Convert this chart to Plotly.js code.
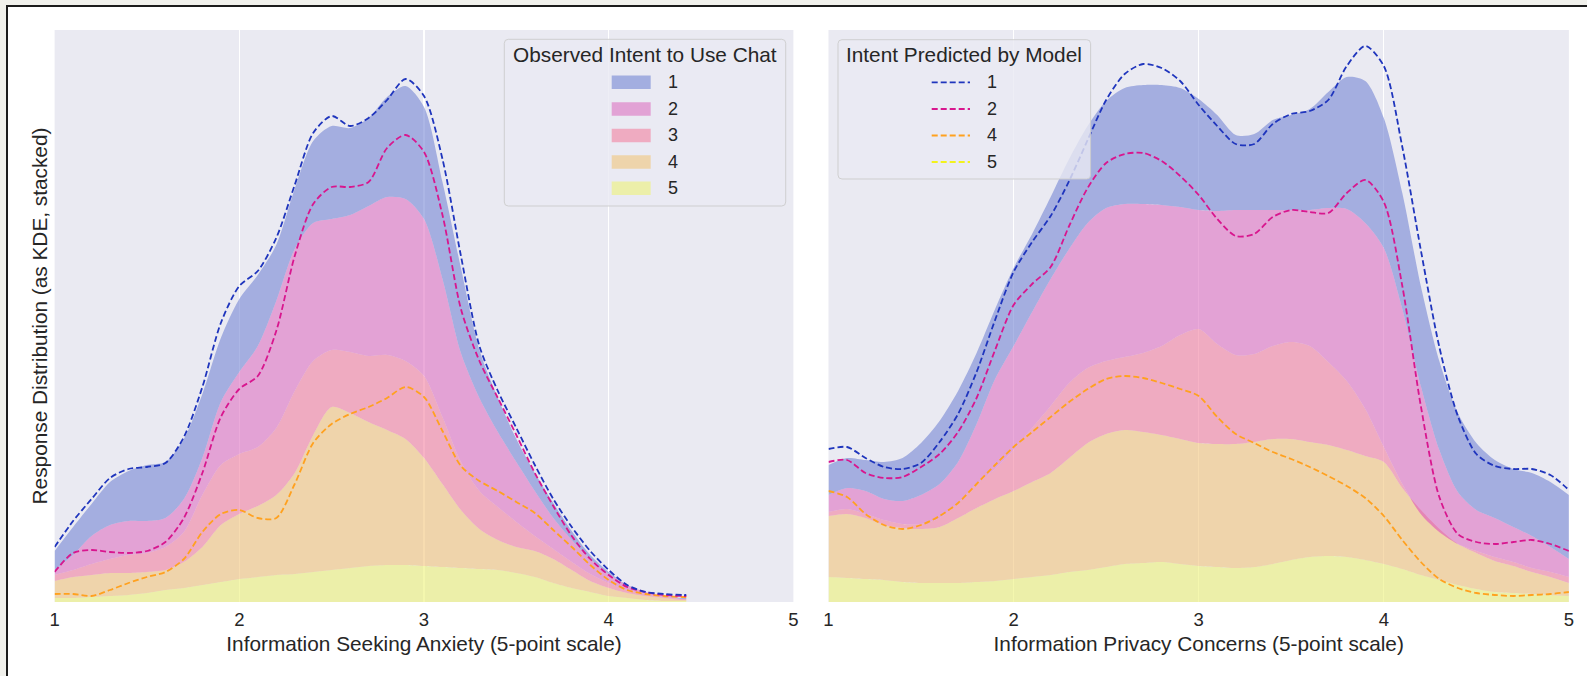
<!DOCTYPE html>
<html>
<head>
<meta charset="utf-8">
<script src="https://cdn.plot.ly/plotly-3.0.1.min.js"></script>
<style>
html,body{margin:0;padding:0;background:#f1f1ec;width:1587px;height:676px;overflow:hidden;}
#frame{position:absolute;left:6px;top:5px;width:1581px;height:671px;border-left:2px solid #1c1c1c;border-top:2px solid #1c1c1c;background:#fff;box-sizing:border-box;}
#chart{position:absolute;left:0;top:0;width:1579px;height:669px;}
</style>
</head>
<body>
<div id="frame"><div id="chart"></div></div>
<script>
// ---------- DATA ----------
const classLabels = ['1','2','3','4','5'];
const predLabels = ['1','2','4','5'];
const xTicks = [1,2,3,4,5];

// Left panel: Information Seeking Anxiety
const xAnx = [1.0,1.1,1.2,1.3,1.4,1.5,1.6,1.7,1.8,1.9,2.0,2.1,2.2,2.3,2.4,2.5,2.6,2.7,2.8,2.9,
              3.0,3.1,3.2,3.3,3.4,3.5,3.6,3.7,3.8,3.9,4.0,4.1,4.2,4.3,4.4,4.42];
// observed intent, stacked KDE (cumulative tops, classes 1..5)
const obsAnx1 = [51,75,98,120,131,137,140,163,208,264,303,327,357,413,461,476,474,484,505,516,
                 495,420,334,252,204,163,129,99,71,47,30,17,10,6,4,4];
const obsAnx2 = [32,47,66,77,81,81,84,103,144,200,230,256,301,353,379,383,387,396,405,403,
                 383,323,249,204,170,140,111,84,62,43,28,17,10,6,3,3];
const obsAnx3 = [27,32,38,43,47,49,55,70,107,137,148,155,174,211,241,252,250,246,247,241,
                 226,185,140,111,95,80,66,53,40,28,19,12,8,5,3,3];
const obsAnx4 = [21,25,27,29,29,30,32,40,55,77,88,96,107,129,167,195,189,180,172,163,
                 144,118,92,73,62,55,51,43,32,21,14,9,6,4,2,2];
const obsAnx5 = [4,4,5,6,7,9,12,14,17,20,23,25,27,28,30,32,34,36,37,37,
                 36,35,34,33,32,29,25,19,14,10,6,4,2,1,1,1];
// predicted intent, stacked (cumulative) KDE lines
const predAnx1 = [55,81,103,124,133,135,139,165,215,279,316,331,364,417,469,486,476,484,502,523,
                  506,443,346,256,211,174,137,103,75,51,32,17,10,8,7,7];
const predAnx2 = [30,49,52,50,49,51,60,84,129,185,213,226,271,346,398,415,415,420,454,467,
                  450,387,293,241,204,167,129,96,66,43,27,15,10,7,6,6];
const predAnx4 = [8,8,6,12,19,25,30,43,70,88,92,84,84,118,159,178,188,195,204,215,
                  205,171,136,121,111,100,89,72,55,37,22,12,8,6,5,5];

// Right panel: Information Privacy Concerns
const xPriv = [1.0,1.1,1.2,1.3,1.4,1.5,1.6,1.7,1.8,1.9,2.0,2.1,2.2,2.3,2.4,2.5,2.6,2.7,2.8,2.9,
               3.0,3.1,3.2,3.3,3.4,3.5,3.6,3.7,3.8,3.9,4.0,4.1,4.2,4.3,4.4,4.5,4.6,4.7,4.8,4.9,5.0];
const obsPriv1 = [137,144,142,140,144,159,181,211,249,293, 334,368,405,443,476,501,514,517,517,514,
                  503,487,467,468,482,487,493,510,525,521, 484,409,316,241,189,159,142,133,129,120, 107];
const obsPriv2 = [107,114,111,103,101,107,118,140,178,223, 256,290,323,353,379,394,398,398,397,395,
                  392,391,392,392,392,392,392,394,393,379, 354,293,216,152,110,92,84,75,66,55, 43];
const obsPriv3 = [90,93,88,82,78,78,84,99,118,133, 152,174,196,219,234,241,245,249,256,267,
                  273,258,247,248,256,260,256,240,221,193, 155,118,88,70,58,51,45,40,34,30, 25];
const obsPriv4 = [86,88,84,77,74,73,75,84,94,103, 111,120,129,144,159,168,172,170,167,163,
                  159,158,158,160,163,163,160,157,152,146, 140,114,92,73,58,49,41,36,30,25, 19];
const obsPriv5 = [25,24,23,22,20,19,19,19,20,21, 23,25,27,30,32,35,38,39,40,38,
                  36,35,34,35,38,42,45,46,45,42, 38,33,27,22,17,13,10,9,8,7, 6];
const predPriv1 = [153,155,144,135,133,139,160,188,230,282, 330,360,386,421,462,502,528,538,534,521,
                   497,476,458,458,478,488,491,502,536,556, 536,455,352,255,186,148,136,133,133,127, 112];
const predPriv2 = [140,142,129,124,125,135,148,170,204,252, 297,318,335,376,414,439,448,449,441,426,
                   407,383,366,368,385,392,390,389,409,422, 400,316,196,105,68,60,58,60,62,58, 51];
const predPriv4 = [111,105,88,77,73,77,86,99,118,137, 155,170,185,200,213,223,226,224,219,213,
                   206,185,168,159,150,143,135,126,116,104, 86,62,40,23,14,9,7,6,7,8, 10];

// ---------- STYLE ----------
// semi-transparent fills (gridlines show faintly through, as in the original)
const fillColors = {'1':'rgba(116,134,212,0.6)','2':'rgba(221,114,194,0.6)','3':'rgba(242,129,160,0.6)',
                    '4':'rgba(241,197,124,0.6)','5':'rgba(237,242,120,0.6)'};
const swatchColors = {'1':'#a3aee0','2':'#e2a2d5','3':'#efabc1','4':'#eed4ab','5':'#ecefa9'};
const lineColors = {'1':'#1f35bd','2':'#d8168e','4':'#ffa11f','5':'#f2f21c'};
const DASH = '6px,3px';
const FONT = 'Liberation Sans, Arial, Helvetica, sans-serif';
const TXT = '#262626';

const W = 1579, H = 669, OX = 8, OY = 7;
const px = X => (X - OX) / W;
const py = Y => 1 - (Y - OY) / H;

// ---------- TRACES ----------
const traces = [];
function addStack(x, stacks, xa, ya) {
  // stacks ordered bottom (class 5) to top (class 1)
  stacks.forEach((s, i) => {
    traces.push({
      type: 'scatter', mode: 'lines', x: x, y: s.y, xaxis: xa, yaxis: ya,
      line: {width: 0, shape: 'spline', smoothing: 0.8, color: s.c},
      fill: i === 0 ? 'tozeroy' : 'tonexty', fillcolor: s.c,
      name: s.name, showlegend: false, hoverinfo: 'skip'
    });
  });
}
addStack(xAnx, [
  {y: obsAnx5, c: fillColors['5'], name: '5'},
  {y: obsAnx4, c: fillColors['4'], name: '4'},
  {y: obsAnx3, c: fillColors['3'], name: '3'},
  {y: obsAnx2, c: fillColors['2'], name: '2'},
  {y: obsAnx1, c: fillColors['1'], name: '1'}
], 'x', 'y');
addStack(xPriv, [
  {y: obsPriv5, c: fillColors['5'], name: '5'},
  {y: obsPriv4, c: fillColors['4'], name: '4'},
  {y: obsPriv3, c: fillColors['3'], name: '3'},
  {y: obsPriv2, c: fillColors['2'], name: '2'},
  {y: obsPriv1, c: fillColors['1'], name: '1'}
], 'x2', 'y2');

function addLine(x, y, key, xa, ya) {
  traces.push({
    type: 'scatter', mode: 'lines', x: x, y: y, xaxis: xa, yaxis: ya,
    line: {color: lineColors[key], width: 1.8, dash: DASH, shape: 'spline', smoothing: 0.8},
    name: key, showlegend: false, hoverinfo: 'skip'
  });
}
addLine(xAnx, predAnx4, '4', 'x', 'y');
addLine(xAnx, predAnx2, '2', 'x', 'y');
addLine(xAnx, predAnx1, '1', 'x', 'y');
addLine(xPriv, predPriv4, '4', 'x2', 'y2');
addLine(xPriv, predPriv2, '2', 'x2', 'y2');
addLine(xPriv, predPriv1, '1', 'x2', 'y2');

// ---------- LEGENDS (drawn as shapes + text) ----------
const shapes = [], annotations = [];
function roundRect(x0, y0, x1, y1, r) {
  const P = (X, Y) => px(X).toFixed(6) + ',' + py(Y).toFixed(6);
  return 'M' + P(x0 + r, y0) + ' L' + P(x1 - r, y0) + ' Q' + P(x1, y0) + ' ' + P(x1, y0 + r) +
         ' L' + P(x1, y1 - r) + ' Q' + P(x1, y1) + ' ' + P(x1 - r, y1) +
         ' L' + P(x0 + r, y1) + ' Q' + P(x0, y1) + ' ' + P(x0, y1 - r) +
         ' L' + P(x0, y0 + r) + ' Q' + P(x0, y0) + ' ' + P(x0 + r, y0) + ' Z';
}
function legendBox(x0, y0, x1, y1, title) {
  shapes.push({type: 'path', xref: 'paper', yref: 'paper', layer: 'above',
    path: roundRect(x0, y0, x1, y1, 4),
    fillcolor: 'rgba(234,234,242,0.8)', line: {color: 'rgba(204,204,204,0.9)', width: 1}});
  annotations.push({xref: 'paper', yref: 'paper', x: px((x0 + x1) / 2), y: py(55),
    xanchor: 'center', yanchor: 'middle', showarrow: false, text: title,
    font: {family: FONT, size: 20.8, color: TXT}});
}
const rowY = [82.3, 109, 135.5, 162, 188.3];

// left legend: observed (fill swatches)
legendBox(504.3, 39.3, 785.7, 206, 'Observed Intent to Use Chat');
classLabels.forEach((k, i) => {
  shapes.push({type: 'rect', xref: 'paper', yref: 'paper', layer: 'above',
    x0: px(611.7), x1: px(650.7), y0: py(rowY[i] - 6.7), y1: py(rowY[i] + 6.7),
    fillcolor: swatchColors[k], line: {width: 0}});
  annotations.push({xref: 'paper', yref: 'paper', x: px(666), y: py(rowY[i]),
    xanchor: 'left', yanchor: 'middle', showarrow: false, text: k,
    font: {family: FONT, size: 18, color: TXT}});
});

// right legend: predicted (dashed line swatches)
legendBox(838, 39.7, 1090.6, 179, 'Intent Predicted by Model');
predLabels.forEach((k, i) => {
  shapes.push({type: 'line', xref: 'paper', yref: 'paper', layer: 'above',
    x0: px(931.7), x1: px(970), y0: py(rowY[i]), y1: py(rowY[i]),
    line: {color: lineColors[k], width: 1.8, dash: DASH}});
  annotations.push({xref: 'paper', yref: 'paper', x: px(985), y: py(rowY[i]),
    xanchor: 'left', yanchor: 'middle', showarrow: false, text: k,
    font: {family: FONT, size: 18, color: TXT}});
});

// ---------- AXES ----------
function xAxis(domain, anchor, title) {
  return {domain: domain, anchor: anchor, range: [1, 5], tickvals: xTicks, ticktext: xTicks.map(String),
    showgrid: true, gridcolor: '#ffffff', gridwidth: 1.2, zeroline: false, showline: false,
    ticks: '', ticklabelstandoff: 4, tickfont: {family: FONT, size: 18.5, color: TXT}, automargin: false,
    title: {text: title, font: {family: FONT, size: 20.8, color: TXT}, standoff: 7},
    fixedrange: true};
}
function yAxis(anchor, title) {
  return {domain: [py(602), py(30)], anchor: anchor, range: [0, 572],
    showticklabels: false, showgrid: false, zeroline: false, showline: false, ticks: '',
    automargin: false, fixedrange: true,
    title: {text: title, font: {family: FONT, size: 20.8, color: TXT}, standoff: 0}};
}

const layout = {
  width: W, height: H,
  margin: {l: 0, r: 0, t: 0, b: 0, pad: 0},
  paper_bgcolor: '#ffffff', plot_bgcolor: '#eaeaf2',
  font: {family: FONT, color: TXT, size: 18},
  showlegend: false,
  xaxis: xAxis([px(54.6), px(793.4)], 'y', 'Information Seeking Anxiety (5-point scale)'),
  yaxis: yAxis('x', 'Response Distribution (as KDE, stacked)'),
  xaxis2: xAxis([px(828.5), px(1568.9)], 'y2', 'Information Privacy Concerns (5-point scale)'),
  yaxis2: yAxis('x2', ''),
  shapes: shapes,
  annotations: annotations
};

Plotly.newPlot('chart', traces, layout, {staticPlot: true, displayModeBar: false});
</script>
</body>
</html>
